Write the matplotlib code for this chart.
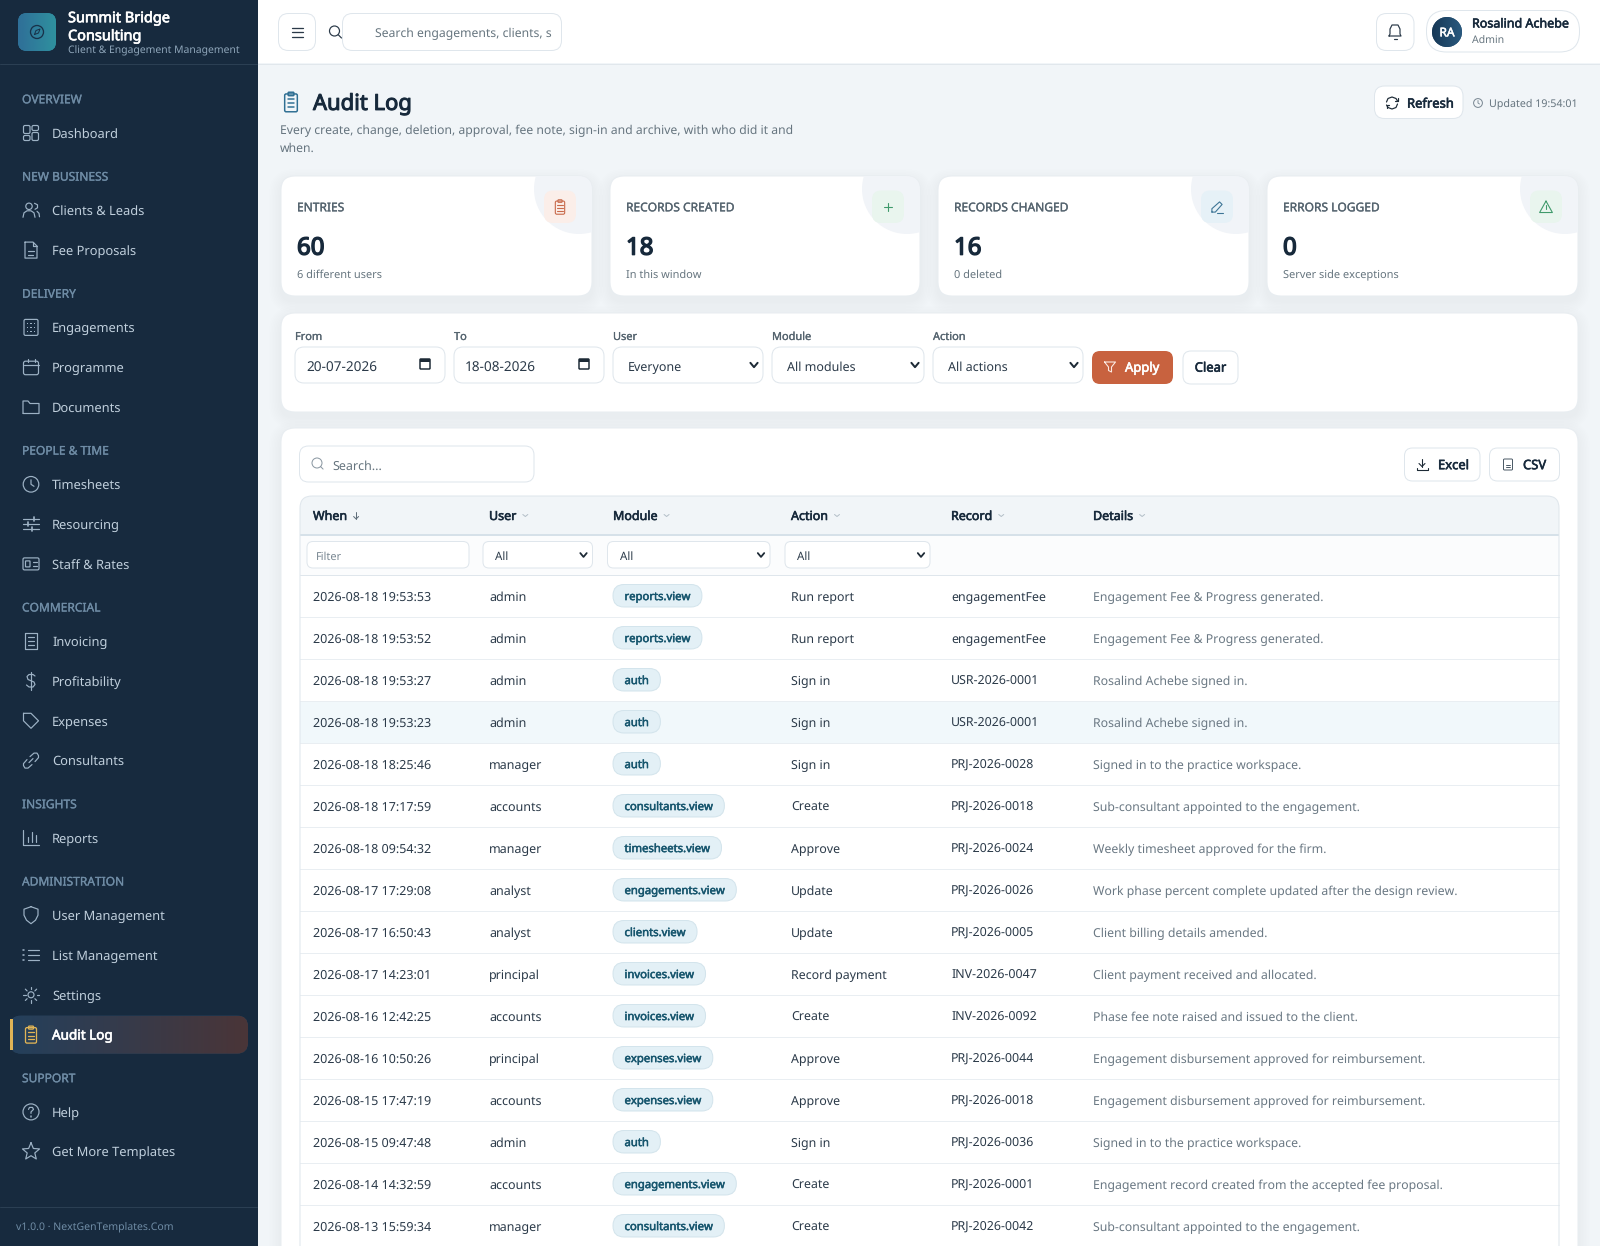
import numpy as np
import matplotlib
matplotlib.use("Agg")
import matplotlib.pyplot as plt
import matplotlib.patheffects as pe
from matplotlib.patches import FancyBboxPatch, Circle, Rectangle
from matplotlib.colors import LinearSegmentedColormap

plt.rcParams['font.family'] = ['Noto Sans', 'DejaVu Sans']
plt.rcParams['text.hinting'] = 'no_hinting'

# ---------- data ----------
brand_name = ["Summit Bridge", "Consulting"]
brand_tag = "Client & Engagement Management"
nav_groups = ["OVERVIEW", "NEW BUSINESS", "DELIVERY", "PEOPLE & TIME", "COMMERCIAL", "INSIGHTS", "ADMINISTRATION", "SUPPORT"]
nav_items = [
    [("Dashboard", "grid")],
    [("Clients & Leads", "users"), ("Fee Proposals", "file")],
    [("Engagements", "building"), ("Programme", "calendar"), ("Documents", "folder")],
    [("Timesheets", "clock"), ("Resourcing", "sliders"), ("Staff & Rates", "idcard")],
    [("Invoicing", "invoice"), ("Profitability", "dollar"), ("Expenses", "tag"), ("Consultants", "link")],
    [("Reports", "bars")],
    [("User Management", "shield"), ("List Management", "list"), ("Settings", "sun"), ("Audit Log", "clip")],
    [("Help", "help"), ("Get More Templates", "star")],
]
active_item = "Audit Log"
footer_text = "v1.0.0 · NextGenTemplates.Com"

stat_labels = ["ENTRIES", "RECORDS CREATED", "RECORDS CHANGED", "ERRORS LOGGED"]
stat_values = ["60", "18", "16", "0"]
stat_notes = ["6 different users", "In this window", "0 deleted", "Server side exceptions"]
stat_icons = ["clip", "plus", "pen", "warn"]
stat_icon_colors = ["#c8694a", "#3f9a6b", "#3d7596", "#3f9a6b"]
stat_icon_bgs = ["#fbeee9", "#e9f5ee", "#e6f1f7", "#e9f5ee"]

filter_labels = ["From", "To", "User", "Module", "Action"]
filter_values = ["20-07-2026", "18-08-2026", "Everyone", "All modules", "All actions"]
filter_kinds = ["date", "date", "sel", "sel", "sel"]

col_names = ["When", "User", "Module", "Action", "Record", "Details"]
when = ["2026-08-18 19:53:53", "2026-08-18 19:53:52", "2026-08-18 19:53:27", "2026-08-18 19:53:23",
        "2026-08-18 18:25:46", "2026-08-18 17:17:59", "2026-08-18 09:54:32", "2026-08-17 17:29:08",
        "2026-08-17 16:50:43", "2026-08-17 14:23:01", "2026-08-16 12:42:25", "2026-08-16 10:50:26",
        "2026-08-15 17:47:19", "2026-08-15 09:47:48", "2026-08-14 14:32:59", "2026-08-13 15:59:34"]
users = ["admin", "admin", "admin", "admin", "manager", "accounts", "manager", "analyst",
         "analyst", "principal", "accounts", "principal", "accounts", "admin", "accounts", "manager"]
modules = ["reports.view", "reports.view", "auth", "auth", "auth", "consultants.view", "timesheets.view",
           "engagements.view", "clients.view", "invoices.view", "invoices.view", "expenses.view",
           "expenses.view", "auth", "engagements.view", "consultants.view"]
actions = ["Run report", "Run report", "Sign in", "Sign in", "Sign in", "Create", "Approve", "Update",
           "Update", "Record payment", "Create", "Approve", "Approve", "Sign in", "Create", "Create"]
records = ["engagementFee", "engagementFee", "USR-2026-0001", "USR-2026-0001", "PRJ-2026-0028", "PRJ-2026-0018",
           "PRJ-2026-0024", "PRJ-2026-0026", "PRJ-2026-0005", "INV-2026-0047", "INV-2026-0092", "PRJ-2026-0044",
           "PRJ-2026-0018", "PRJ-2026-0036", "PRJ-2026-0001", "PRJ-2026-0042"]
details = ["Engagement Fee & Progress generated.", "Engagement Fee & Progress generated.",
           "Rosalind Achebe signed in.", "Rosalind Achebe signed in.", "Signed in to the practice workspace.",
           "Sub-consultant appointed to the engagement.", "Weekly timesheet approved for the firm.",
           "Work phase percent complete updated after the design review.", "Client billing details amended.",
           "Client payment received and allocated.", "Phase fee note raised and issued to the client.",
           "Engagement disbursement approved for reimbursement.", "Engagement disbursement approved for reimbursement.",
           "Signed in to the practice workspace.", "Engagement record created from the accepted fee proposal.",
           "Sub-consultant appointed to the engagement."]
highlight_row = 3

# ---------- canvas (1 unit = 1 pixel, 1 pt = 1 pixel) ----------
W, H = 1600, 1246
fig = plt.figure(figsize=(W / 72, H / 72), dpi=72, facecolor="#f1f5f8")
ax = fig.add_axes([0, 0, 1, 1])
ax.set_xlim(0, W)
ax.set_ylim(H, 0)
ax.axis("off")
ax.set_autoscale_on(False)

BORDER = "#dfe6ec"
INK = "#17293b"
BODY = "#2b3a49"
MUTED = "#66757f"
STROKE = {"normal": 0, 600: 0.025, "bold": 0.046, "black": 0.06}


def T(x, y, s, size=13, c=BODY, w="normal", ha="left", z=6):
    """Text vertically centred on y, measured from the baseline; heavier weights use an outline."""
    t = ax.text(x, y + 0.36 * size, s, fontsize=size, color=c, ha=ha, va="baseline", zorder=z)
    if STROKE[w]:
        t.set_path_effects([pe.withStroke(linewidth=STROKE[w] * size, foreground=c)])
    return t


def R(x0, y0, x1, y1, r=0, fc="none", ec="none", lw=1, z=2, alpha=None):
    p = FancyBboxPatch((x0, y0), x1 - x0, y1 - y0, boxstyle=f"round,pad=0,rounding_size={r}",
                       fc=fc, ec=ec, lw=lw, zorder=z, alpha=alpha)
    ax.add_patch(p)
    return p


def L(pts, c, lw=1.3, z=7):
    xs, ys = zip(*pts)
    ax.plot(xs, ys, color=c, lw=lw, solid_capstyle="round", solid_joinstyle="round", zorder=z)


def C(x, y, r, c="none", lw=1.3, fc="none", z=7):
    p = Circle((x, y), r, fc=fc, ec=c, lw=lw, zorder=z)
    ax.add_patch(p)
    return p


def gradient(patch, x0, y0, x1, y1, c0, c1, z=3):
    cmap = LinearSegmentedColormap.from_list("g", [c0, c1])
    arr = np.linspace(0, 1, 200).reshape(1, -1)
    im = ax.imshow(arr, extent=(x0, x1, y1, y0), cmap=cmap, aspect="auto", zorder=z)
    im.set_clip_path(patch)


def shadow(x0, y0, x1, y1, r):
    for i in range(8):
        g = 12 - i * 1.5
        R(x0 - g, y0 - g + 5, x1 + g, y1 + g + 5, r + g, fc="#1c2f42", z=1, alpha=0.0055)


def icon(kind, x, y, c, lw=1.3, s=1.0):
    def P(pts):
        return [(x + a * s, y + b * s) for a, b in pts]
    if kind == "grid":
        R(x - 7.5, y - 7.5, x - 1, y + 0.5, 1.5, ec=c, lw=lw, z=7)
        R(x + 1, y - 7.5, x + 7.5, y - 2.5, 1.5, ec=c, lw=lw, z=7)
        R(x - 7.5, y + 2.5, x - 1, y + 7.5, 1.5, ec=c, lw=lw, z=7)
        R(x + 1, y - 0.5, x + 7.5, y + 7.5, 1.5, ec=c, lw=lw, z=7)
    elif kind == "users":
        C(x - 2, y - 4, 3.2, c, lw)
        L(P([(-8, 7), (-7, 2.5), (-4, 0.5), (0, 0.5), (3, 2.5), (4, 7)]), c, lw)
        L(P([(3.5, -7), (6.5, -5.5), (6.5, -2.5), (4, -1)]), c, lw)
        L(P([(6, 1), (8, 3), (8.5, 6.5)]), c, lw)
    elif kind == "file":
        L(P([(-6, -8), (2, -8), (6, -4), (6, 8), (-6, 8), (-6, -8)]), c, lw)
        L(P([(2, -8), (2, -4), (6, -4)]), c, lw)
        L(P([(-3, 1), (3, 1)]), c, lw)
        L(P([(-3, 4.5), (2, 4.5)]), c, lw)
    elif kind == "building":
        R(x - 7, y - 8, x + 7, y + 8, 1.5, ec=c, lw=lw, z=7)
        for a in (-3.5, 0, 3.5):
            for b in (-4, 0, 4):
                ax.add_patch(Rectangle((x + a - 0.6, y + b - 0.6), 1.2, 1.2, fc=c, ec="none", zorder=7))
    elif kind == "calendar":
        R(x - 7.5, y - 6, x + 7.5, y + 7.5, 2, ec=c, lw=lw, z=7)
        L(P([(-7.5, -2), (7.5, -2)]), c, lw)
        L(P([(-3.5, -8), (-3.5, -5)]), c, lw)
        L(P([(3.5, -8), (3.5, -5)]), c, lw)
    elif kind == "folder":
        L(P([(-8, 6), (-8, -6), (-3, -6), (-1, -3.5), (8, -3.5), (8, 6.5), (-8, 6.5)]), c, lw)
    elif kind == "clock":
        C(x, y, 7.8, c, lw)
        L(P([(0, -4.5), (0, 0), (3, 2)]), c, lw)
    elif kind == "sliders":
        for b, k in ((-5, 3), (0, -3), (5, 1)):
            L(P([(-8, b), (8, b)]), c, lw)
            L(P([(k, b - 2), (k, b + 2)]), c, lw + 0.5)
    elif kind == "idcard":
        R(x - 8, y - 6, x + 8, y + 6, 1.5, ec=c, lw=lw, z=7)
        R(x - 5.5, y - 3, x - 1, y + 3, 0.5, ec=c, lw=lw, z=7)
        L(P([(1.5, -2), (5.5, -2)]), c, lw)
        L(P([(1.5, 2), (5.5, 2)]), c, lw)
    elif kind == "invoice":
        L(P([(-6, -8), (6, -8), (6, 8), (-6, 8), (-6, -8)]), c, lw)
        for b in (-4, 0, 4):
            L(P([(-3, b), (3, b)]), c, lw)
    elif kind == "dollar":
        L(P([(0, -9), (0, 9)]), c, lw)
        L(P([(4, -5), (2, -6.5), (-2, -6.5), (-4, -4.5), (-3, -1.5), (3, 1), (4, 3.5), (2, 6), (-2, 6), (-4.5, 4)]), c, lw)
    elif kind == "tag":
        L(P([(-7.5, -7.5), (0, -7.5), (7.5, 0), (0, 7.5), (-7.5, 0), (-7.5, -7.5)]), c, lw)
        L(P([(-3.5, -3.5), (-3.3, -3.5)]), c, lw + 0.5)
    elif kind == "link":
        L(P([(-2, 2), (2, -2)]), c, lw)
        L(P([(-1, -4), (3, -7.5), (6, -7.5), (7.5, -5), (7.5, -3), (4, 1)]), c, lw)
        L(P([(1, 4), (-3, 7.5), (-6, 7.5), (-7.5, 5), (-7.5, 3), (-4, -1)]), c, lw)
    elif kind == "bars":
        L(P([(-8, -8), (-8, 7.5), (8, 7.5)]), c, lw)
        L(P([(-3.5, 4), (-3.5, -1)]), c, lw)
        L(P([(0.5, 4), (0.5, -6)]), c, lw)
        L(P([(4.5, 4), (4.5, -3)]), c, lw)
    elif kind == "shield":
        L(P([(0, -8.5), (7, -6), (7, 0), (4.5, 5), (0, 8.5), (-4.5, 5), (-7, 0), (-7, -6), (0, -8.5)]), c, lw)
    elif kind == "list":
        for b in (-5, 0, 5):
            L(P([(-8, b), (-6.8, b)]), c, lw + 0.4)
            L(P([(-3.5, b), (8, b)]), c, lw)
    elif kind == "sun":
        C(x, y, 3, c, lw)
        for a in np.deg2rad(np.arange(0, 360, 45)):
            L(P([(5.5 * np.cos(a), 5.5 * np.sin(a)), (8 * np.cos(a), 8 * np.sin(a))]), c, lw)
    elif kind == "clip":
        R(x - 5.5 * s, y - 7 * s, x + 5.5 * s, y + 8.5 * s, 1.5, ec=c, lw=lw, z=7)
        R(x - 2.5 * s, y - 8.5 * s, x + 2.5 * s, y - 5.5 * s, 0.8, ec=c, lw=lw, z=7)
        for b in (-2.5, 1, 4.5):
            L(P([(-3, b), (3, b)]), c, lw)
    elif kind == "help":
        C(x, y, 8, c, lw)
        L(P([(-2.5, -2.5), (-1.5, -4.5), (1.5, -4.5), (2.5, -2.5), (0, 0), (0, 1.5)]), c, lw)
        L(P([(0, 4.5), (0, 4.8)]), c, lw + 0.3)
    elif kind == "star":
        a = np.deg2rad(np.arange(-90, 271, 36))
        rr = np.where(np.arange(len(a)) % 2 == 0, 9, 4)
        L(P(list(zip(rr * np.cos(a), rr * np.sin(a)))), c, lw)
    elif kind == "plus":
        L(P([(-5, 0), (5, 0)]), c, lw)
        L(P([(0, -5), (0, 5)]), c, lw)
    elif kind == "pen":
        L(P([(-6, 6), (-6, 2), (3, -6), (6, -3), (-2, 6), (-6, 6)]), c, lw)
        L(P([(0, 6.5), (6.5, 6.5)]), c, lw)
    elif kind == "warn":
        L(P([(0, -7), (7.5, 6.5), (-7.5, 6.5), (0, -7)]), c, lw)
        L(P([(0, -2), (0, 2)]), c, lw)
        L(P([(0, 4.4), (0, 4.6)]), c, lw)
    elif kind == "search":
        C(x - 1, y - 1, 5, c, lw)
        L(P([(2.8, 2.8), (6, 6)]), c, lw)
    elif kind == "bell":
        L(P([(-6, 5), (-5, 3), (-5, -2), (-3, -6), (3, -6), (5, -2), (5, 3), (6, 5), (-6, 5)]), c, lw)
        L(P([(-1.5, 7.5), (1.5, 7.5)]), c, lw)
    elif kind == "refresh":
        L(P([(-5.5, -1), (-4, -4.5), (0, -6), (4, -4.5), (5.5, -2)]), c, lw)
        L(P([(5.5, 1), (4, 4.5), (0, 6), (-4, 4.5), (-5.5, 2)]), c, lw)
        L(P([(5.5, -5), (5.5, -2), (2.8, -2)]), c, lw)
        L(P([(-5.5, 5), (-5.5, 2), (-2.8, 2)]), c, lw)
    elif kind == "funnel":
        L(P([(-5.5, -5), (5.5, -5), (1.5, 0), (1.5, 5), (-1.5, 3.5), (-1.5, 0), (-5.5, -5)]), c, lw)
    elif kind == "download":
        L(P([(-5.5, 3), (-5.5, 5.5), (5.5, 5.5), (5.5, 3)]), c, lw)
        L(P([(0, -5.5), (0, 2)]), c, lw)
        L(P([(-3, -1), (0, 2), (3, -1)]), c, lw)
    elif kind == "doc":
        R(x - 4.5, y - 5.5, x + 4.5, y + 5.5, 1, ec=c, lw=lw, z=7)
        L(P([(-2, 0), (2, 0)]), c, lw)
        L(P([(-2, 2.5), (2, 2.5)]), c, lw)


def chevron(x, y, c="#1d2a36", lw=2.0, d=3.6):
    L([(x - d, y - d * 0.6), (x, y + d * 0.6), (x + d, y - d * 0.6)], c, lw)


def calendar_glyph(x, y):
    R(x - 5, y - 5, x + 5, y + 5, 0.8, ec="#1d2a36", lw=1.5, z=7)
    ax.add_patch(Rectangle((x - 5, y - 5), 10, 3, fc="#1d2a36", ec="none", zorder=7))


# ---------- sidebar ----------
ax.add_patch(Rectangle((0, 0), 258, H, fc="#172a3e", ec="none", zorder=1))
L([(0, 63.5), (257, 63.5)], "#2b3f53", 1, z=2)
L([(0, 1206.5), (257, 1206.5)], "#2b3f53", 1, z=2)
logo = R(18, 13, 56, 51, 9, fc="#2d7a9a", z=3)
gradient(logo, 18, 13, 56, 51, "#2f6f98", "#2f919f", z=3)
C(37, 32, 6.5, "#18324a", 1.3)
L([(34.5, 34.5), (36, 30.5), (40, 29), (38.5, 33), (34.5, 34.5)], "#18324a", 1.0)
T(68, 17, brand_name[0], 14.5, "#ffffff", "bold")
T(68, 35, brand_name[1], 14.5, "#ffffff", "bold")
T(68, 50, brand_tag, 10.4, "#8fa6ba")

y = 99.0
for gi, (grp, items) in enumerate(zip(nav_groups, nav_items)):
    T(22, y, grp, 12, "#6f8ca5", 600)
    y += 34
    for ii, (name, kind) in enumerate(items):
        if name == active_item:
            pill = R(10, y - 19, 248, y + 19, 11, fc="#2a4560", z=2)
            gradient(pill, 10, y - 19, 248, y + 19, "#24405c", "#4a3538", z=2)
            ax.add_patch(Rectangle((10, y - 15.5), 2.6, 31, fc="#e0b456", ec="none", zorder=4))
            icon(kind, 31, y, "#e0b456", 1.3)
            T(52, y, name, 13.5, "#ffffff", "bold")
        else:
            icon(kind, 31, y, "#9db2c5", 1.2)
            T(52, y, name, 12.9, "#c0cfdc")
        if ii < len(items) - 1:
            y += 39.8
    y += 43.3
T(16, 1227, footer_text, 10.5, "#6f8ca5")

# ---------- top bar ----------
ax.add_patch(Rectangle((258, 0), W - 258, 63, fc="#ffffff", ec="none", zorder=1))
L([(258, 63.5), (W, 63.5)], "#e1e7ec", 1, z=2)
R(278.5, 13.5, 315.5, 50.5, 10, fc="#ffffff", ec=BORDER)
for b in (-4.5, 0, 4.5):
    L([(291.5, 32 + b), (303, 32 + b)], "#2b3a49", 1.3)
icon("search", 335.5, 32, "#2b3a49", 1.2)
R(342.5, 13.5, 561.5, 50.5, 10, fc="#ffffff", ec=BORDER)
T(375, 32.5, "Search engagements, clients, s", 12.2, MUTED)
R(1376.5, 13.5, 1414, 50.5, 10, fc="#ffffff", ec=BORDER)
icon("bell", 1395, 31, "#2b3a49", 1.2)
R(1426.5, 10.5, 1579.5, 52, 20, fc="#ffffff", ec=BORDER)
av = C(1447, 32, 15, fc="#1f4566", lw=0, z=3)
gradient(av, 1432, 17, 1462, 47, "#173856", "#2a5a7f", z=3)
T(1447, 32, "RA", 12, "#ffffff", "bold", ha="center")
T(1472, 23, "Rosalind Achebe", 12.5, INK, "bold")
T(1472, 40, "Admin", 10.5, MUTED)

# ---------- title ----------
icon("clip", 291, 102, "#2f6f93", 1.5, s=1.15)
T(313, 102, "Audit Log", 22, INK, "bold")
T(280, 130, "Every create, change, deletion, approval, fee note, sign-in and archive, with who did it and", 12.2, MUTED)
T(280, 147, "when.", 12.2, MUTED)
R(1374.5, 86, 1463, 118.5, 10, fc="#ffffff", ec=BORDER)
icon("refresh", 1392, 103, "#1d2a36", 1.2)
T(1407, 103, "Refresh", 13, INK, "bold")
C(1478, 103, 4.4, "#7a8893", 1)
L([(1478, 100.5), (1478, 103), (1479.5, 104)], "#7a8893", 0.9)
T(1489, 103, "Updated 19:54:01", 10.7, MUTED)

# ---------- stat cards ----------
card_x = [(281, 592), (610, 920), (938, 1249), (1267, 1578)]
for (x0, x1), lab, val, note, ik, ic, ib in zip(card_x, stat_labels, stat_values, stat_notes,
                                                stat_icons, stat_icon_colors, stat_icon_bgs):
    shadow(x0, 176, x1, 296, 14)
    card = R(x0, 176, x1, 296, 14, fc="#ffffff", ec="#e8edf1", z=2)
    deco = C(x1 - 13, 189, 45, fc="#f1f4f8", lw=0, z=3)
    deco.set_clip_path(card)
    R(x1 - 48, 190.5, x1 - 16, 223, 9, fc=ib, z=4)
    icon(ik, x1 - 32, 207, ic, 1.1, s=0.85)
    T(x0 + 16, 207, lab, 12, "#55646f", 600)
    T(x0 + 16, 246, val, 24, INK, "black")
    T(x0 + 16, 274, note, 11, MUTED)

# ---------- filter card ----------
shadow(281, 313, 1578, 412, 14)
R(281, 313, 1578, 412, 14, fc="#ffffff", ec="#e8edf1")
filter_x = [(295, 445), (454, 604), (613, 763), (772, 924), (933, 1083)]
for (x0, x1), lab, val, kind in zip(filter_x, filter_labels, filter_values, filter_kinds):
    T(x0, 336, lab, 11, "#55646f", 600)
    R(x0, 347, x1, 383, 9, fc="#ffffff", ec=BORDER)
    if kind == "date":
        T(x0 + 11, 366.5, val, 13.6, BODY)
        calendar_glyph(x1 - 20, 364)
    else:
        T(x0 + 15, 366.5, val, 12.5, BODY)
        chevron(x1 - 9, 365)
R(1092, 351, 1173, 384, 8, fc="#c8623f")
icon("funnel", 1110, 367, "#fbe9e2", 1.1)
T(1125, 367, "Apply", 13, "#ffffff", "bold")
R(1183, 351, 1238, 384, 8, fc="#ffffff", ec=BORDER)
T(1210.5, 367, "Clear", 13, INK, "bold", ha="center")

# ---------- table card ----------
shadow(281, 428, 1578, 1320, 14)
R(281, 428, 1578, 1320, 14, fc="#ffffff", ec="#e8edf1")
R(299.5, 446, 534, 482, 9, fc="#ffffff", ec=BORDER)
icon("search", 318, 464, "#8a97a1", 1.0, s=0.85)
T(332, 465, "Search...", 12.5, MUTED)
R(1404.5, 448, 1480, 481, 8, fc="#ffffff", ec=BORDER)
icon("download", 1422, 464.5, "#1d2a36", 1.1)
T(1438, 464.5, "Excel", 13, INK, "bold")
R(1489.5, 448, 1559.5, 481, 8, fc="#ffffff", ec=BORDER)
icon("doc", 1508, 464.5, "#3a4a58", 0.9)
T(1523, 464.5, "CSV", 13, INK, "bold")

head = R(300, 496, 1559, 560, 12, fc="#f1f5f8", z=3)
ax.add_patch(Rectangle((300, 520), 1259, 15, fc="#f1f5f8", ec="none", zorder=3))
ax.add_patch(Rectangle((300, 535), 1259, 39.5, fc="#fbfcfd", ec="none", zorder=3))
ax.add_patch(Rectangle((300, 534), 1259, 2, fc="#d6e1e9", ec="none", zorder=4))
L([(300, 574.5), (1559, 574.5)], BORDER, 1, z=4)
R(300, 496, 1559, 1320, 12, ec=BORDER, z=5)

col_x = [313, 489, 613, 791, 951, 1093]
rend = fig.canvas.get_renderer()
for i, (name, x) in enumerate(zip(col_names, col_x)):
    t = T(x, 515.5, name, 12.5, INK, "bold")
    bb = t.get_window_extent(rend)
    xe = bb.x1 + 9
    if i == 0:
        L([(xe, 511.5), (xe, 519)], "#5f6e7a", 1)
        L([(xe - 2.5, 516.5), (xe, 519), (xe + 2.5, 516.5)], "#5f6e7a", 1)
    else:
        L([(xe - 2.5, 514.5), (xe, 516.5), (xe + 2.5, 514.5)], "#b4bfc8", 1)

R(307, 541.5, 469, 568, 6, fc="#ffffff", ec=BORDER, z=5)
T(316, 556, "Filter", 11, "#7a8893")
for x0, x1 in [(483, 592.5), (607.5, 770), (785, 930)]:
    R(x0, 541.5, x1, 568, 6, fc="#ffffff", ec=BORDER, z=5)
    T(x0 + 12, 556, "All", 11.5, BODY)
    chevron(x1 - 9, 555, lw=1.8, d=3.2)

for i, (a, b, m, d, e, f) in enumerate(zip(when, users, modules, actions, records, details)):
    yc = 596.5 + 42 * i
    if i == highlight_row:
        ax.add_patch(Rectangle((300, yc - 22), 1259, 42, fc="#f1f8fb", ec="none", zorder=3))
    L([(300, yc + 20), (1559, yc + 20)], "#e9eef2", 1, z=4)
    T(col_x[0], yc, a, 12.5, BODY)
    T(col_x[1], yc, b, 12.5, BODY)
    t = T(col_x[2] + 11.5, yc - 0.5, m, 11.3, "#17566e", "bold")
    bb = t.get_window_extent(rend)
    R(col_x[2], yc - 12, bb.x1 + 11.5, yc + 10.5, 11, fc="#e3f0f6", ec="#d3e4ec", z=5)
    T(col_x[3], yc, d, 12.4, BODY)
    T(col_x[4], yc, e, 12.4, BODY)
    T(col_x[5], yc, f, 12.3, "#6a7883")

fig.savefig("out.png", dpi=72, facecolor=fig.get_facecolor())
